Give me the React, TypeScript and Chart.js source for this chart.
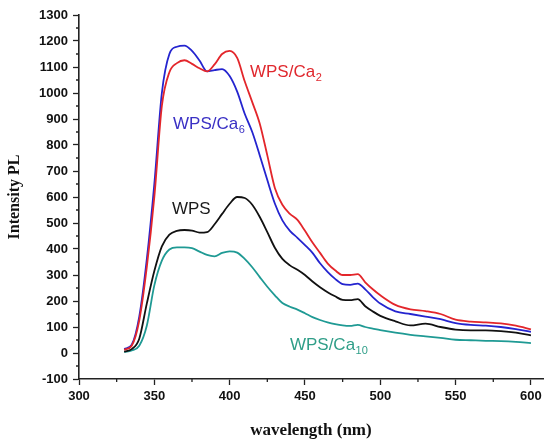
import React, { useEffect, useRef } from "react";
import { Chart, registerables } from "chart.js";

Chart.register(...registerables);

const wavelengths = [330, 335, 340, 345, 350, 355, 360, 365, 370, 375, 380, 385, 390, 395, 400, 405, 410, 415, 420, 425, 430, 435, 440, 445, 450, 455, 460, 465, 470, 475, 480, 485, 490, 495, 500, 510, 520, 530, 540, 550, 560, 570, 580, 590, 600];

const wpsCa2 = [12, 28, 125, 330, 600, 950, 1080, 1115, 1126, 1112, 1095, 1083, 1110, 1150, 1162, 1135, 1045, 965, 882, 760, 635, 570, 535, 512, 470, 425, 385, 345, 318, 300, 300, 303, 272, 245, 222, 185, 168, 161, 150, 128, 121, 118, 114, 105, 91];
const wpsCa6 = [15, 32, 140, 360, 650, 1000, 1150, 1178, 1182, 1162, 1125, 1083, 1088, 1092, 1065, 1005, 920, 850, 760, 665, 575, 510, 470, 443, 415, 385, 345, 312, 285, 265, 262, 267, 245, 215, 190, 160, 150, 140, 130, 115, 108, 105, 100, 92, 81];
const wps = [5, 15, 55, 190, 315, 410, 455, 470, 473, 471, 463, 465, 495, 535, 574, 600, 596, 570, 523, 465, 405, 362, 337, 320, 300, 275, 253, 234, 218, 204, 203, 207, 180, 160, 143, 122, 106, 113, 100, 90, 87, 87, 84, 78, 68];
const wpsCa10 = [3, 10, 28, 105, 260, 355, 398, 406, 406, 403, 390, 377, 372, 385, 391, 386, 362, 330, 292, 255, 222, 192, 178, 167, 153, 138, 127, 118, 111, 106, 104, 108, 100, 94, 88, 78, 70, 64, 58, 51, 49, 47, 46, 43, 38];

const xTicks = [300, 350, 400, 450, 500, 550, 600];
const xMinorTicks = [325, 375, 425, 475, 525, 575];
const yMinorTicks = [-50, 50, 150, 250, 350, 450, 550, 650, 750, 850, 950, 1050, 1150, 1250];

const seriesNames = ["WPS/Ca2", "WPS/Ca6", "WPS", "WPS/Ca10"];
const seriesColors = ["#e3262b", "#2424cf", "#111111", "#1f9a94"];
const labelColors = ["#e0282e", "#3a30c4", "#1a1a1a", "#2f9e88"];
const labelMain = ["WPS/Ca", "WPS/Ca", "WPS", "WPS/Ca"];
const labelSub = ["2", "6", "", "10"];
const labelAt = [
  [413.5, 1060],
  [362.4, 860],
  [361.7, 533],
  [440, 10],
];

const SANS = "'Liberation Sans', Arial, Helvetica, sans-serif";
const SERIF = "'Liberation Serif', 'Times New Roman', serif";

const minorTicksPlugin = {
  id: "minorTicks",
  afterDraw(chart: any) {
    const { ctx, scales } = chart;
    const xs = scales.x;
    const ys = scales.y;
    ctx.save();
    ctx.strokeStyle = "#222";
    ctx.lineWidth = 1.3;
    ctx.beginPath();
    for (const v of yMinorTicks) {
      const py = ys.getPixelForValue(v);
      ctx.moveTo(xs.left - 3, py);
      ctx.lineTo(xs.left, py);
    }
    for (const v of xMinorTicks) {
      const px = xs.getPixelForValue(v);
      ctx.moveTo(px, ys.bottom);
      ctx.lineTo(px, ys.bottom + 3);
    }
    ctx.stroke();
    ctx.restore();
  },
};

const labelsPlugin = {
  id: "seriesLabels",
  afterDatasetsDraw(chart: any) {
    const { ctx, scales } = chart;
    ctx.save();
    ctx.textBaseline = "alphabetic";
    ctx.textAlign = "left";
    labelAt.forEach((pos, i) => {
      const px = scales.x.getPixelForValue(pos[0]);
      const py = scales.y.getPixelForValue(pos[1]);
      ctx.fillStyle = labelColors[i];
      ctx.font = `17px ${SANS}`;
      ctx.fillText(labelMain[i], px, py);
      const w = ctx.measureText(labelMain[i]).width;
      if (labelSub[i]) {
        ctx.font = `11px ${SANS}`;
        ctx.fillText(labelSub[i], px + w + 0.5, py + 4);
      }
    });
    ctx.restore();
  },
};

export default function App() {
  const ref = useRef<HTMLCanvasElement | null>(null);

  useEffect(() => {
    if (!ref.current) return;
    const series = [wpsCa2, wpsCa6, wps, wpsCa10];
    const chart = new Chart(ref.current, {
      type: "line",
      data: {
        datasets: series.map((vals, i) => ({
          label: seriesNames[i],
          data: wavelengths.map((x, j) => ({ x, y: vals[j] })),
          borderColor: seriesColors[i],
          backgroundColor: seriesColors[i],
          borderWidth: 1.8,
          pointRadius: 0,
          cubicInterpolationMode: "monotone" as const,
          fill: false,
        })),
      },
      options: {
        animation: false,
        responsive: true,
        maintainAspectRatio: false,
        layout: { padding: { top: 15, right: 7, left: 0, bottom: 0 } },
        plugins: {
          legend: { display: false },
          tooltip: { enabled: false },
        },
        scales: {
          x: {
            type: "linear",
            min: 300,
            max: 608,
            afterBuildTicks: (scale: any) => {
              scale.ticks = xTicks.map((v) => ({ value: v }));
            },
            afterFit: (scale: any) => {
              scale.height = 69;
            },
            grid: {
              drawOnChartArea: false,
              drawTicks: true,
              tickLength: 6,
              tickColor: "#222",
              tickWidth: 1.3,
            },
            border: { display: true, color: "#222", width: 1.6 },
            ticks: {
              color: "#111",
              font: { family: SANS, size: 13, weight: "bold" },
              padding: 4,
              maxRotation: 0,
              autoSkip: false,
              callback: (v: any) => String(v),
            },
            title: {
              display: true,
              text: "wavelength (nm)",
              color: "#111",
              font: { family: SERIF, size: 17, weight: "bold" },
              padding: { top: 0, bottom: 7 },
            },
          },
          y: {
            type: "linear",
            min: -100,
            max: 1300,
            ticks: {
              stepSize: 100,
              color: "#111",
              font: { family: SANS, size: 13, weight: "bold" },
              padding: 5,
              callback: (v: any) => String(v),
            },
            afterFit: (scale: any) => {
              scale.width = 79;
            },
            grid: {
              drawOnChartArea: false,
              drawTicks: true,
              tickLength: 6,
              tickColor: "#222",
              tickWidth: 1.3,
            },
            border: { display: true, color: "#222", width: 1.6 },
            title: {
              display: true,
              text: "Intensity PL",
              color: "#111",
              font: { family: SERIF, size: 16, weight: "bold" },
              padding: { top: 5, bottom: 0 },
            },
          },
        },
      },
      plugins: [minorTicksPlugin, labelsPlugin],
    });
    return () => chart.destroy();
  }, []);

  return (
    <div style={{ position: "absolute", left: 0, top: 0, width: 550, height: 448, background: "#fff" }}>
      <canvas ref={ref} />
    </div>
  );
}
